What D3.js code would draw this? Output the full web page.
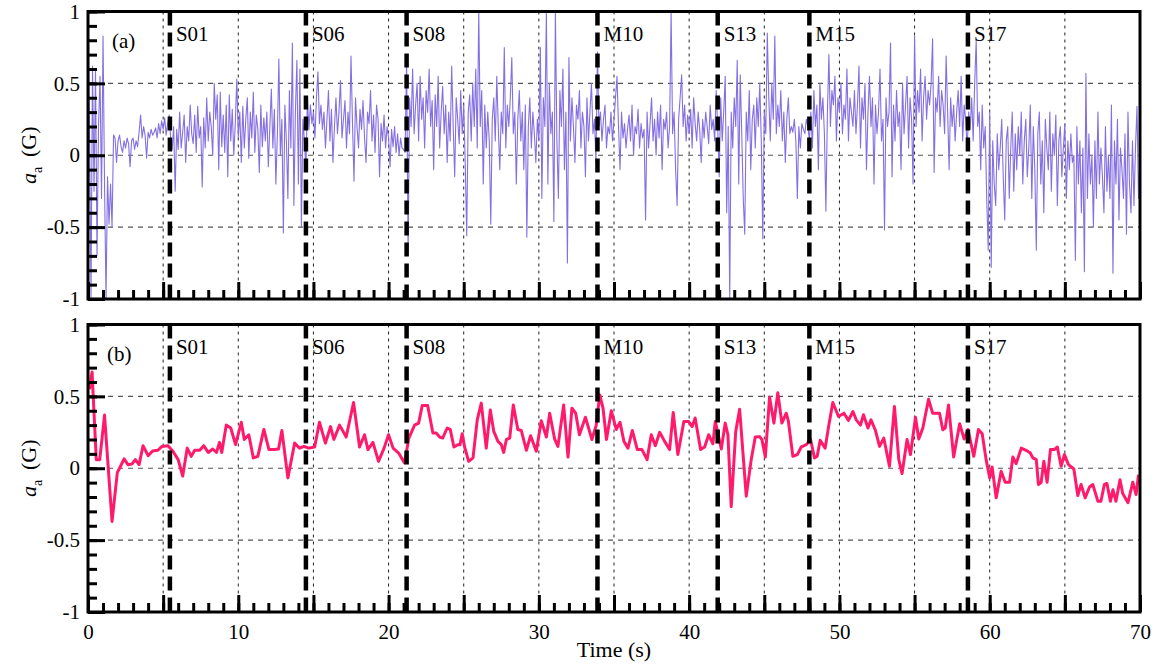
<!DOCTYPE html>
<html>
<head>
<meta charset="utf-8">
<script src="https://cdn.jsdelivr.net/npm/d3@7"></script>
<style>
  body { margin: 0; background: #fff; }
  svg { display: block; }
  svg text { font-family: "Liberation Serif", "Times New Roman", Times, serif; }
</style>
</head>
<body>
<div id="chart"></div>
<script>
// Raw acceleration, panel (a): one value every 0.1 s from 0 to 70 s
const rawStep = 0.1;
const rawAcc = [
  1.0, 0.2, -1.0, 0.62, -0.25, 0.6, -0.7, 0.2, 0.55, -0.3,
  0.83, -0.2, -1.0, -0.15, -0.48, -0.2, -0.5, 0.14, 0.12, -0.05,
  0.1, 0.14, 0.06, 0.02, 0.1, 0.05, 0.12, 0.08, -0.08, 0.1,
  0.12, 0.04, 0.1, 0.06, 0.16, 0.28, 0.12, 0.2, 0.14, -0.02,
  0.16, 0.12, 0.18, 0.14, 0.16, 0.19, 0.12, 0.22, 0.15, 0.24,
  0.18, 0.26, 0.14, 0.22, 0.28, 0.12, 0.04, 0.2, -0.25, 0.18,
  0.04, 0.3, 0.05, 0.16, 0.28, -0.05, 0.2, 0.1, 0.35, 0.15,
  0.08, 0.28, 0.02, 0.34, 0.12, 0.2, -0.22, 0.26, 0.05, 0.4,
  0.1, 0.3, 0.2, 0.0, 0.5, 0.25, 0.42, -0.1, 0.44, 0.06,
  0.28, 0.02, 0.35, -0.15, 0.42, 0.1, 0.32, 0.0, 0.22, 0.53,
  0.12, 0.3, -0.05, 0.34, 0.05, 0.25, 0.4, -0.02, 0.3, 0.12,
  0.44, 0.02, 0.28, 0.18, -0.12, 0.35, 0.06, 0.26, 0.1, 0.3,
  -0.08, 0.2, 0.46, 0.05, 0.32, -0.2, 0.14, 0.67, 0.0, 0.25,
  -0.54, 0.35, 0.1, -0.3, 0.45, 0.05, 0.78, -0.35, 0.3, 0.66,
  -0.2, 0.6, -0.5, 0.25, 0.1, -0.1, 0.4, 0.18, 0.35, 0.22,
  0.3, 0.12, 0.4, 0.58, 0.22, 0.35, 0.18, 0.3, 0.05, 0.25,
  0.45, 0.1, 0.32, -0.05, 0.2, 0.4, 0.15, 0.3, 0.52, 0.12,
  0.25, 0.38, 0.05, 0.3, 0.15, 0.69, 0.22, -0.18, 0.4, 0.2,
  0.05, 0.32, 0.18, 0.38, 0.12, -0.05, 0.3, 0.22, 0.45, 0.1,
  0.28, 0.02, 0.35, 0.25, -0.15, 0.22, 0.1, 0.28, 0.05, 0.2,
  0.12, -0.08, 0.18, 0.06, 0.2, 0.02, 0.15, 0.0, 0.12, 0.05,
  0.04, 0.02, 0.66, -0.69, 0.4, 0.2, 0.6, 0.15, 0.35, 0.5,
  0.1, 0.55, 0.25, 0.4, 0.05, 0.45, 0.3, 0.6, 0.2, 0.38,
  -0.1, 0.42, 0.2, 0.55, 0.05, 0.3, 0.48, 0.15, 0.35, -0.05,
  0.3, 0.1, 0.62, 0.2, -0.15, 0.4, 0.25, 0.08, 0.45, 0.15,
  0.35, -0.05, -0.56, 0.3, 0.42, 0.1, 0.5, 0.2, 0.6, 0.05,
  1.0, 0.2, 0.45, -0.2, 0.35, 0.05, 0.3, 0.1, -0.48, 0.25,
  0.4, 0.1, 0.55, 0.2, -0.1, 0.3, 0.15, 0.75, 0.05, 0.35,
  0.2, 0.4, 0.68, 0.15, 0.3, -0.2, 0.25, 0.45, 0.1, 0.3,
  -0.1, 0.35, -0.57, 0.2, 0.4, 0.05, 0.3, 0.15, -0.05, 0.25,
  0.1, 0.75, -0.3, 0.4, 0.2, 1.0, -0.2, 0.5, 0.15, 0.3,
  -0.46, 1.0, 0.1, -0.3, 0.45, 0.2, 0.6, -0.1, 0.3, -0.75,
  0.68, 0.1, 0.4, 0.2, -0.05, 0.35, 0.25, 0.45, 0.05, 0.3,
  0.2, -0.15, 0.4, 0.1, 0.3, 0.5, 0.15, 0.25, -0.05, 0.72,
  0.2, 0.3, 0.1, 0.25, 0.35, 0.05, 0.2, 0.15, 0.3, 0.1,
  0.25, 0.4, 0.55, 0.2, -0.1, 0.3, 0.12, 0.22, 0.05, 0.18,
  0.28, 0.1, 0.35, 0.0, 0.2, 0.15, 0.32, 0.05, 0.22, 0.12,
  0.18, -0.45, 0.3, 0.05, 0.22, 0.4, 0.1, 0.25, 0.0, 0.3,
  0.12, 0.35, -0.1, 0.25, 0.18, 0.3, 0.05, 0.2, 1.0, 0.15,
  0.3, -0.1, -0.35, 0.25, 0.4, 0.56, 0.2, 0.35, 0.1, 0.28,
  0.15, 0.32, 0.05, 0.4, 0.22, 0.1, 0.3, 0.18, -0.05, 0.25,
  0.12, 0.3, 0.2, 0.08, 0.35, 0.18, 0.25, 0.1, 0.45, 0.2,
  -0.15, 0.4, 0.1, 0.3, 0.55, -0.4, 0.2, -1.0, 0.3, 0.05,
  0.4, 0.2, 0.66, -0.2, 0.56, 0.15, -0.3, -0.55, 0.3, 0.1,
  0.45, -0.1, 0.25, 0.35, 0.05, 0.4, 0.2, 0.5, 0.1, -0.58,
  0.3, 0.15, 0.85, 0.4, 0.1, 0.5, 0.25, 0.83, 0.15, 0.35,
  0.2, 0.45, 0.1, 0.3, -0.05, 0.25, 0.4, 0.15, 0.2, 0.16,
  0.25, 0.1, -0.3, 0.2, 0.05, 0.22, 0.18, 0.15, 0.25, 0.2,
  0.1, 0.3, 0.05, 0.45, 0.2, 0.35, -0.1, 0.5, 0.25, 0.4,
  0.15, -0.39, 0.3, 0.7, 0.2, 0.45, 0.35, 0.55, 0.1, 0.4,
  0.3, 0.5, 0.15, 0.35, 0.25, 0.6, 0.1, 0.4, 0.3, 0.2,
  0.45, 0.15, 0.35, 0.62, 0.05, 0.4, 0.25, 0.5, -0.1, 0.3,
  0.55, 0.2, 0.4, -0.2, 0.35, 0.15, 0.3, 0.6, 0.1, 0.25,
  -0.52, 0.4, 0.2, 0.3, 0.78, -0.15, 0.35, 0.1, 0.45, 0.2,
  0.3, -0.1, 0.5, 0.15, 0.35, 0.55, 0.05, 0.4, 0.25, -0.2,
  0.83, 0.2, 0.45, 0.3, 0.6, 0.1, 0.4, 0.55, 0.25, 0.45,
  0.35, 0.5, 0.81, -0.12, 0.4, 0.3, 0.55, 0.2, 0.45, 0.35,
  0.15, 0.69, 0.3, -0.1, 0.4, 0.2, 0.35, 0.1, 0.3, 0.45,
  0.2, 0.55, 0.1, 0.35, 0.25, 0.05, 0.3, 0.18, 0.4, 0.1,
  0.5, 0.8, 0.2, 0.3, -0.1, 0.35, 0.05, 0.2, -0.3, -0.66,
  0.3, -0.78, 0.1, -0.2, -0.35, 0.15, -0.1, 0.05, 0.25, -0.15,
  -0.45, 0.1, 0.2, -0.3, 0.05, 0.3, -0.25, 0.15, -0.1, 0.2,
  0.0, 0.3, -0.2, 0.1, 0.25, -0.15, 0.05, 0.35, -0.3, 0.2,
  -0.1, -0.66, 0.15, 0.3, -0.2, 0.1, -0.4, 0.25, 0.05, -0.1,
  0.3, -0.25, 0.15, 0.0, 0.28, -0.35, 0.1, 0.2, -0.15, 0.05,
  0.22, -0.3, 0.1, -0.1, 0.15, -0.05, 0.0, -0.73, 0.2, -0.2,
  0.1, -0.4, 0.05, -0.81, 0.57, -0.3, 0.15, -0.2, 0.0, -0.5,
  0.1, -0.3, 0.3, -0.2, 0.05, -0.15, -0.4, 0.2, -0.25, 0.0,
  -0.3, 0.35, -0.82, 0.1, -0.2, 0.25, -0.45, 0.05, -0.1, -0.3,
  0.15, -0.55, 0.3, -0.2, -0.4, 0.1, -0.35, 0.05, 0.34, -0.3,
  -0.02
];

// Filtered acceleration, panel (b)
const filtTime = [
  0.1, 0.27, 0.55, 0.78, 1.1, 1.6, 1.95, 2.1, 2.4, 2.66, 2.93, 3.15, 3.4, 3.66, 4.0, 4.3, 4.65, 4.92,
  5.32, 5.65, 6.0, 6.3, 6.6, 6.87, 7.1, 7.43, 7.7, 8.0, 8.3, 8.55, 8.75, 8.9, 9.2, 9.5, 9.82,
  10.2, 10.4, 10.7, 11.0, 11.3, 11.7, 12.04, 12.4, 12.68, 12.9, 13.3, 13.75, 14.08, 14.37, 14.68,
  15.08, 15.4, 15.8, 16.14, 16.36, 16.74, 17.18, 17.67, 18.07, 18.4, 18.63, 18.96, 19.33, 19.7,
  20.0, 20.3, 20.67, 21.06, 21.35, 21.73, 22.0, 22.24, 22.6, 22.95, 23.17, 23.4, 23.6, 23.9, 24.1,
  24.35, 24.6, 24.75, 24.9, 25.06, 25.33, 25.62, 25.9, 26.17, 26.5, 26.77, 27.0, 27.28, 27.5, 27.66,
  27.84, 28.06, 28.3, 28.6, 28.83, 29.17, 29.45, 29.83, 30.16, 30.5, 30.72, 31.05, 31.27, 31.65,
  31.94, 32.2, 32.45, 32.7, 33.1, 33.53, 33.82, 34.05, 34.27, 34.5, 34.82, 35.15, 35.4, 35.66,
  35.93, 36.22, 36.55, 36.86, 37.2, 37.48, 37.75, 38.04, 38.37, 38.7, 38.94, 39.25, 39.65, 39.96,
  40.2, 40.4, 40.76, 41.03, 41.3, 41.58, 41.74, 42.14, 42.4, 42.58, 42.8, 43.1, 43.36, 43.8, 44.13,
  44.4, 44.69, 44.84, 45.07, 45.35, 45.64, 45.9, 46.17, 46.46, 46.6, 46.9, 47.2, 47.46, 47.8, 48.08,
  48.34, 48.52, 48.72, 49.05, 49.28, 49.56, 49.94, 50.3, 50.6, 50.9, 51.12, 51.4, 51.6, 51.9, 52.1,
  52.38, 52.67, 52.95, 53.33, 53.66, 53.95, 54.17, 54.5, 54.73, 55.06, 55.28, 55.55, 55.93, 56.2,
  56.66, 56.88, 57.04, 57.26, 57.6, 58.0, 58.3, 58.55, 58.94, 59.25, 59.5, 59.76, 60.0, 60.16,
  60.43, 60.76, 61.03, 61.32, 61.54, 61.76, 62.1, 62.42, 62.7, 62.87, 63.1, 63.24, 63.42, 63.6,
  63.82, 64.04, 64.3, 64.5, 64.75, 64.97, 65.24, 65.6, 65.86, 66.08, 66.35, 66.64, 66.86, 67.2,
  67.4, 67.63, 67.8, 68.03, 68.2, 68.4, 68.67, 68.85, 69.2, 69.52, 69.74, 69.9
];
const filtAcc = [
  0.55, 0.67, 0.06, 0.06, 0.37, -0.37, -0.03, 0.0, 0.065, 0.025, 0.03, 0.06, 0.025, 0.157, 0.088, 0.12, 0.125, 0.152,
  0.157, 0.118, 0.06, -0.055, 0.14, 0.083, 0.125, 0.125, 0.157, 0.11, 0.134, 0.11, 0.18, 0.11, 0.30, 0.28, 0.164,
  0.32, 0.2, 0.233, 0.072, 0.083, 0.27, 0.13, 0.13, 0.134, 0.263, -0.067, 0.175, 0.14, 0.152, 0.14,
  0.148, 0.32, 0.175, 0.29, 0.2, 0.3, 0.217, 0.457, 0.148, 0.233, 0.13, 0.18, 0.048, 0.14,
  0.233, 0.14, 0.106, 0.037, 0.21, 0.30, 0.314, 0.437, 0.437, 0.245, 0.245, 0.217, 0.21, 0.28, 0.27,
  0.148, 0.164, 0.164, 0.24, 0.148, 0.048, 0.072, 0.337, 0.453, 0.14, 0.406, 0.256, 0.187, 0.164, 0.11,
  0.2, 0.21, 0.44, 0.27, 0.263, 0.125, 0.226, 0.118, 0.33, 0.217, 0.383, 0.203, 0.152, 0.44,
  0.078, 0.418, 0.383, 0.233, 0.355, 0.2, 0.30, 0.51, 0.418, 0.2, 0.40, 0.27, 0.32, 0.187,
  0.14, 0.263, 0.13, 0.13, 0.06, 0.233, 0.157, 0.25, 0.187, 0.13, 0.388, 0.095, 0.326, 0.326,
  0.29, 0.35, 0.13, 0.148, 0.233, 0.17, 0.326, 0.134, 0.314, 0.233, -0.268, 0.256, 0.41, -0.194, 0.06,
  0.217, 0.22, 0.2, 0.078, 0.494, 0.314, 0.526, 0.314, 0.383, 0.33, 0.083, 0.095, 0.148, 0.164, 0.2,
  0.072, 0.083, 0.194, 0.14, 0.29, 0.457, 0.36, 0.383, 0.333, 0.395, 0.337, 0.3, 0.372, 0.28, 0.337,
  0.268, 0.152, 0.21, 0.014, 0.43, 0.06, -0.037, 0.2, 0.095, 0.355, 0.203, 0.28, 0.48, 0.383,
  0.383, 0.268, 0.28, 0.44, 0.078, 0.31, 0.203, 0.27, 0.083, 0.27, 0.24, 0.06, -0.067, 0.009,
  -0.206, -0.021, -0.097, -0.097, 0.078, 0.032, 0.14, 0.125, 0.106, 0.072, 0.06, -0.113, -0.1, 0.048,
  -0.097, 0.13, 0.13, 0.148, 0.014, 0.095, 0.025, -0.005, -0.19, -0.113, -0.206, -0.13, -0.113, -0.23,
  -0.23, -0.113, -0.106, -0.23, -0.15, -0.23, -0.08, -0.176, -0.24, -0.097, -0.183, -0.044
];

// Event markers (s)
const eventNames = ["S01", "S06", "S08", "M10", "S13", "M15", "S17"];
const eventTimes = [5.45, 14.5, 21.2, 33.9, 41.9, 48.0, 58.55];

const panelTags = ["(a)", "(b)"];
const yMajorTicks = [-1, -0.5, 0, 0.5, 1];
const yMinorTicks = d3.range(-10, 11).map(d => d / 10);
const xMajorTicks = d3.range(0, 71, 5);
const xMinorTicks = d3.range(0, 71, 1);
const xLabelTicks = [0, 10, 20, 30, 40, 50, 60, 70];

const serif = "'Liberation Serif', 'Times New Roman', Times, serif";
const width = 1160, height = 668;
const left = 88, plotW = 1052, plotH = 287.5;
const panelTops = [11.5, 324.5];

const svg = d3.select("#chart").append("svg")
    .attr("width", width)
    .attr("height", height)
    .attr("font-family", serif);

const x = d3.scaleLinear().domain([0, 70]).range([0, plotW]);
const y = d3.scaleLinear().domain([-1, 1]).range([plotH, 0]);

const rawData = rawAcc.map((v, i) => ({ t: i * rawStep, v: v }));
const filtData = filtTime.map((t, i) => ({ t: t, v: filtAcc[i] }));

const panels = [
    { data: rawData, color: "#8470e2", width: 1.1 },
    { data: filtData, color: "#ff1a6c", width: 3 }
];

panels.forEach((p, k) => {
    const g = svg.append("g").attr("transform", `translate(${left},${panelTops[k]})`);

    g.append("clipPath").attr("id", "clip" + k)
        .append("rect").attr("width", plotW).attr("height", plotH);

    // horizontal dashed grid
    g.selectAll(".hgrid")
        .data([-0.5, 0, 0.5])
        .enter().append("line")
        .attr("x1", 0).attr("x2", plotW)
        .attr("y1", d => y(d)).attr("y2", d => y(d))
        .attr("stroke", "#555")
        .attr("stroke-width", 1.2)
        .attr("stroke-dasharray", "5,5");

    // vertical dotted grid
    g.selectAll(".vgrid")
        .data(xMajorTicks.filter(d => d > 0 && d < 70))
        .enter().append("line")
        .attr("x1", d => x(d)).attr("x2", d => x(d))
        .attr("y1", 0).attr("y2", plotH)
        .attr("stroke", "#222")
        .attr("stroke-width", 1)
        .attr("stroke-dasharray", "3,4");

    const line = d3.line()
        .x(d => x(d.t))
        .y(d => y(d.v));

    g.append("path")
        .datum(p.data)
        .attr("clip-path", `url(#clip${k})`)
        .attr("fill", "none")
        .attr("stroke", p.color)
        .attr("stroke-width", p.width)
        .attr("stroke-linejoin", "round")
        .attr("d", line);

    // event lines
    g.selectAll(".event")
        .data(eventTimes)
        .enter().append("line")
        .attr("x1", d => x(d)).attr("x2", d => x(d))
        .attr("y1", 0).attr("y2", plotH)
        .attr("stroke", "#000")
        .attr("stroke-width", 4.5)
        .attr("stroke-dasharray", "14,7");

    g.selectAll(".event-label")
        .data(eventNames)
        .enter().append("text")
        .attr("x", (d, i) => x(eventTimes[i]) + 6)
        .attr("y", 29)
        .attr("font-family", serif)
        .attr("font-size", 21)
        .text(d => d);

    g.append("text")
        .attr("x", k === 0 ? 24 : 19)
        .attr("y", 36)
        .attr("font-family", serif)
        .attr("font-size", 21)
        .text(panelTags[k]);

    // minor ticks
    g.append("g")
        .call(d3.axisLeft(y).tickValues(yMinorTicks).tickSize(-9).tickFormat(""))
        .call(a => a.select(".domain").remove())
        .selectAll("line").attr("stroke-width", 3);

    g.append("g")
        .attr("transform", `translate(0,${plotH})`)
        .call(d3.axisBottom(x).tickValues(xMinorTicks).tickSize(-9).tickFormat(""))
        .call(a => a.select(".domain").remove())
        .selectAll("line").attr("stroke-width", 3);

    // major ticks with labels
    const yAxis = g.append("g")
        .call(d3.axisLeft(y).tickValues(yMajorTicks).tickSize(-17).tickPadding(8)
            .tickFormat(d => String(d)))
        .call(a => a.select(".domain").remove());
    yAxis.attr("font-family", serif).attr("font-size", 21);
    yAxis.selectAll("line").attr("stroke-width", 3);
    yAxis.selectAll("text").attr("fill", "#000");

    const xAxis = g.append("g")
        .attr("transform", `translate(0,${plotH})`)
        .call(d3.axisBottom(x).tickValues(xMajorTicks).tickSize(-17).tickPadding(12)
            .tickFormat(d => (k === 1 && xLabelTicks.includes(d)) ? String(d) : ""))
        .call(a => a.select(".domain").remove());
    xAxis.attr("font-family", serif).attr("font-size", 21);
    xAxis.selectAll("line").attr("stroke-width", 3);
    xAxis.selectAll("text").attr("fill", "#000");

    // frame
    g.append("rect")
        .attr("width", plotW).attr("height", plotH)
        .attr("fill", "none")
        .attr("stroke", "#000")
        .attr("stroke-width", 3);

    // y label
    const yl = g.append("text")
        .attr("transform", `translate(-52,${plotH / 2}) rotate(-90)`)
        .attr("text-anchor", "middle")
        .attr("font-family", serif)
        .attr("font-size", 22);
    yl.append("tspan").attr("font-style", "italic").text("a");
    yl.append("tspan").attr("font-size", 14).attr("dy", 6).text("a");
    yl.append("tspan").attr("dy", -6).text("\u2009 (G)");
});

svg.append("text")
    .attr("x", left + plotW / 2)
    .attr("y", 657)
    .attr("text-anchor", "middle")
    .attr("font-family", serif)
    .attr("font-size", 22)
    .text("Time (s)");
</script>
</body>
</html>
